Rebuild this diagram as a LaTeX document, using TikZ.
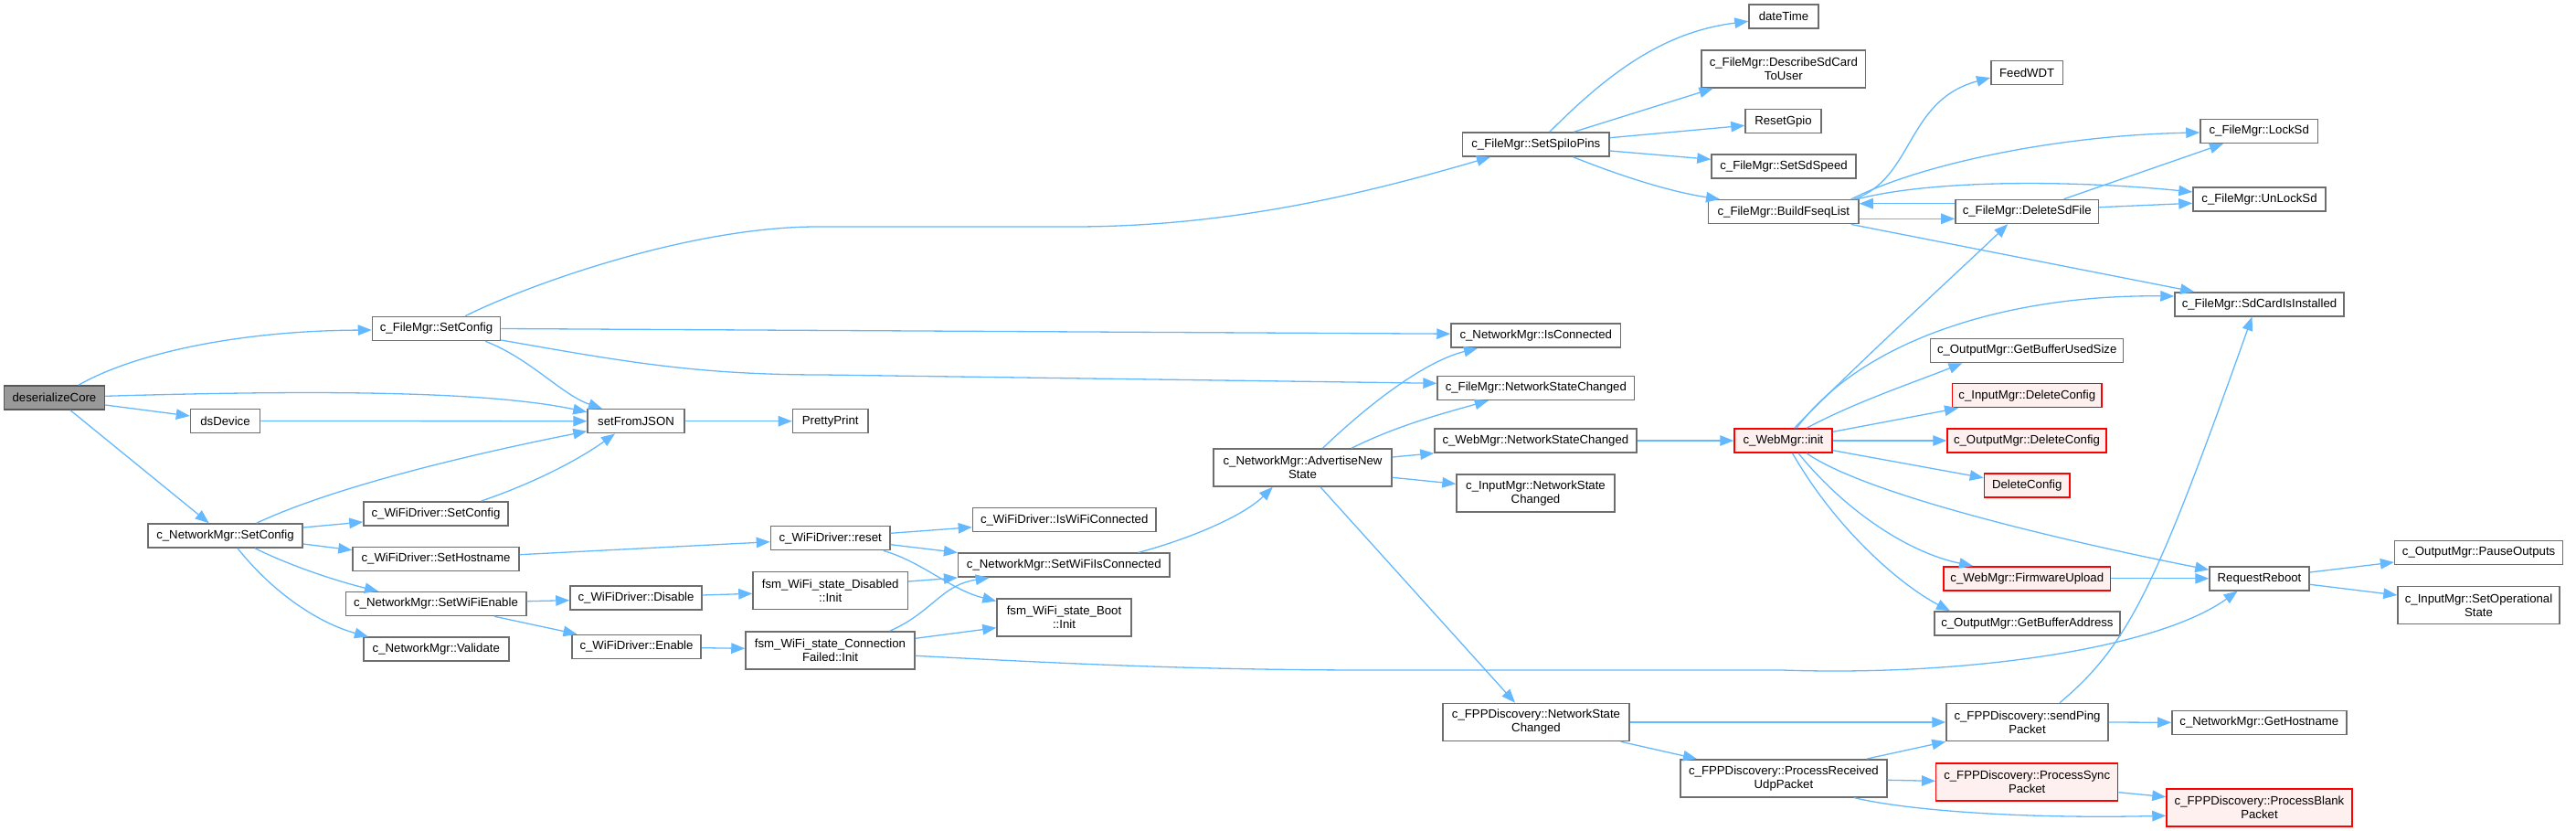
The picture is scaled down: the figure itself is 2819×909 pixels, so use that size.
\documentclass[tikz,border=0pt]{standalone}
\usepackage{fontspec}
\setmainfont{Liberation Sans}
\usetikzlibrary{arrows.meta}
\definecolor{ecol}{HTML}{63B8FF}
\definecolor{bcol}{HTML}{6E6E6E}
\definecolor{rootfill}{HTML}{999999}
\definecolor{redfill}{HTML}{FFF0F0}
\tikzset{
  nb/.style={draw=bcol, fill=white, line width=1.5pt, inner sep=0pt, minimum height=26pt,
             font=\fontsize{13.2pt}{15pt}\selectfont, align=center, text=black},
  tb/.style={nb, minimum height=41pt},
  rb/.style={nb, draw=red, fill=redfill},
  rtb/.style={tb, draw=red, fill=redfill},
  gb/.style={nb, fill=rootfill, draw=bcol!80!black},
  cx/.style={draw=ecol, line width=1.3pt, -{Triangle[length=15pt,width=11.5pt]}}
}
\begin{document}
\begin{tikzpicture}[x=1pt,y=-1pt]
\useasboundingbox (0,0) rectangle (2819,909);
% ---------- nodes ----------
\node[gb, minimum width=110pt] (dc) at (59.5,435) {deserializeCore};
\node[nb, minimum width=140pt] (fsc) at (477.5,359.5) {c\_FileMgr::SetConfig};
\node[nb, minimum width=76pt] (dsd) at (246.5,460.5) {dsDevice};
\node[nb, minimum width=106pt] (sfj) at (696,460.7) {setFromJSON};
\node[nb, minimum width=169pt] (nsc) at (246.5,586) {c\_NetworkMgr::SetConfig};
\node[nb, minimum width=158pt] (wsc) at (477,561.8) {c\_WiFiDriver::SetConfig};
\node[nb, minimum width=182pt] (wsh) at (477,611.4) {c\_WiFiDriver::SetHostname};
\node[nb, minimum width=197.5pt] (swe) at (477,660.5) {c\_NetworkMgr::SetWiFiEnable};
\node[nb, minimum width=159pt] (val) at (477.3,710.2) {c\_NetworkMgr::Validate};
\node[nb, minimum width=144pt] (dis) at (696,654) {c\_WiFiDriver::Disable};
\node[nb, minimum width=141pt] (ena) at (696.5,707.4) {c\_WiFiDriver::Enable};
\node[nb, minimum width=82.5pt] (pp) at (908.7,460.7) {PrettyPrint};
\node[tb, minimum width=195pt] (ans) at (1425.5,511.5) {c\_NetworkMgr::AdvertiseNew\\State};
\node[nb, minimum width=200.5pt] (iwc) at (1164.7,568.7) {c\_WiFiDriver::IsWiFiConnected};
\node[nb, minimum width=130.5pt] (rst) at (908.7,588.7) {c\_WiFiDriver::reset};
\node[nb, minimum width=231.3pt] (swic) at (1164.3,618.2) {c\_NetworkMgr::SetWiFiIsConnected};
\node[tb, minimum width=169.4pt] (dinit) at (908.7,646) {fsm\_WiFi\_state\_Disabled\\::Init};
\node[tb, minimum width=185pt] (fcf) at (908.5,711.3) {fsm\_WiFi\_state\_Connection\\Failed::Init};
\node[tb, minimum width=147pt] (boot) at (1164.5,675.5) {fsm\_WiFi\_state\_Boot\\::Init};
\node[nb, minimum width=76pt] (dt) at (1952,18) {dateTime};
\node[tb, minimum width=179.6pt] (desc) at (1951.8,75.5) {c\_FileMgr::DescribeSdCard\\ToUser};
\node[nb, minimum width=83pt] (rg) at (1951.5,132.7) {ResetGpio};
\node[nb, minimum width=158pt] (sds) at (1952,182) {c\_FileMgr::SetSdSpeed};
\node[nb, minimum width=164.4pt] (bfl) at (1951.8,231.7) {c\_FileMgr::BuildFseqList};
\node[nb, minimum width=160.4pt] (spi) at (1680.8,158) {c\_FileMgr::SetSpiIoPins};
\node[nb, minimum width=185.6pt] (ic) at (1680.8,367.2) {c\_NetworkMgr::IsConnected};
\node[nb, minimum width=215.5pt] (fnsc) at (1680.8,424.5) {c\_FileMgr::NetworkStateChanged};
\node[nb, minimum width=220.8pt] (wnsc) at (1680.4,482) {c\_WebMgr::NetworkStateChanged};
\node[tb, minimum width=173pt] (insc) at (1680.5,539.3) {c\_InputMgr::NetworkState\\Changed};
\node[rb, minimum width=107pt] (init) at (1951.5,482) {c\_WebMgr::init};
\node[tb, minimum width=204pt] (fppn) at (1681,790) {c\_FPPDiscovery::NetworkState\\Changed};
\node[tb, minimum width=226pt] (udp) at (1951.9,851.3) {c\_FPPDiscovery::ProcessReceived\\UdpPacket};
\node[nb, minimum width=78.8pt] (fw) at (2218.2,79.5) {FeedWDT};
\node[nb, minimum width=128.5pt] (lock) at (2472.2,143.5) {c\_FileMgr::LockSd};
\node[nb, minimum width=145pt] (unlock) at (2472.5,218) {c\_FileMgr::UnLockSd};
\node[nb, minimum width=156.5pt] (del) at (2218.2,231.5) {c\_FileMgr::DeleteSdFile};
\node[nb, minimum width=185pt] (sdc) at (2472.5,332.8) {c\_FileMgr::SdCardIsInstalled};
\node[nb, minimum width=211pt] (gbus) at (2218.2,383.5) {c\_OutputMgr::GetBufferUsedSize};
\node[rb, minimum width=163.3pt] (idc) at (2218.3,432.7) {c\_InputMgr::DeleteConfig};
\node[rb, minimum width=174pt] (odc) at (2218,482) {c\_OutputMgr::DeleteConfig};
\node[rb, minimum width=93.5pt] (dcf) at (2218.2,531) {DeleteConfig};
\node[nb, minimum width=184pt] (po) at (2712.6,604.5) {c\_OutputMgr::PauseOutputs};
\node[rb, minimum width=182.6pt] (fu) at (2218.3,632.8) {c\_WebMgr::FirmwareUpload};
\node[nb, minimum width=109pt] (rr) at (2472.5,632.8) {RequestReboot};
\node[tb, minimum width=177pt] (sos) at (2712.5,662) {c\_InputMgr::SetOperational\\State};
\node[nb, minimum width=203pt] (gba) at (2218.4,682) {c\_OutputMgr::GetBufferAddress};
\node[tb, minimum width=177pt] (sp) at (2218.5,790) {c\_FPPDiscovery::sendPing\\Packet};
\node[nb, minimum width=191pt] (gh) at (2472.3,790.3) {c\_NetworkMgr::GetHostname};
\node[rtb, minimum width=199pt] (sync) at (2218.2,855.7) {c\_FPPDiscovery::ProcessSync\\Packet};
\node[rtb, minimum width=203pt] (blank) at (2472.5,883.5) {c\_FPPDiscovery::ProcessBlank\\Packet};
% ---------- connectors ----------
\draw[cx] ([xshift=26.5pt]dc.north) .. controls (140,390) and (250,362) .. ([yshift=-1.5pt]fsc.west);
\draw[cx] ([yshift=1.7pt]dc.east) .. controls (300,428) and (520,425) .. ([yshift=10pt]sfj.west);
\draw[cx] ([yshift=-8pt]dc.east) -- ([yshift=5.5pt]dsd.west);
\draw[cx] ([xshift=17.5pt]dc.south) -- ([xshift=-17.8pt]nsc.north);
\draw[cx] (dsd.east) -- (sfj.west);
\draw[cx] ([xshift=53.5pt]fsc.south) .. controls (580,392) and (615,432) .. ([xshift=-37pt]sfj.north);
\draw[cx] (fsc.east) -- ([yshift=2pt]ic.west);
\draw[cx] ([yshift=-12.5pt]fsc.east) .. controls (680,395) and (760,410) .. (900,410) -- ([yshift=5.2pt]fnsc.west);
\draw[cx] ([xshift=31.5pt]fsc.north) .. controls (570,315) and (750,248) .. (895,248) -- (1175,248) .. controls (1350,248) and (1500,210) .. ([xshift=-49.8pt]spi.south);
\draw[cx] (sfj.east) -- (pp.west);
\draw[cx] ([xshift=34.2pt]nsc.north) .. controls (360,535) and (500,500) .. ([yshift=-11pt]sfj.west);
\draw[cx] ([xshift=49.6pt]wsc.north) .. controls (580,530) and (630,505) .. ([xshift=-23pt]sfj.south);
\draw[cx] ([yshift=9pt]nsc.east) -- ([yshift=-9.2pt]wsc.west);
\draw[cx] ([yshift=-9pt]nsc.east) -- ([yshift=9.7pt]wsh.west);
\draw[cx] ([xshift=32.5pt]nsc.south) .. controls (320,620) and (370,636) .. ([xshift=-63pt]swe.north);
\draw[cx] ([xshift=13.5pt]nsc.south) .. controls (300,650) and (350,682) .. ([xshift=-74.3pt]val.north);
\draw[cx] ([yshift=4.7pt]wsh.east) -- ([yshift=-4pt]rst.west);
\draw[cx] ([yshift=2.8pt]swe.east) -- ([yshift=-2.7pt]dis.west);
\draw[cx] ([xshift=64pt]swe.south) -- ([xshift=-65pt]ena.north);
\draw[cx] ([yshift=5.4pt]rst.east) -- ([yshift=-8pt]iwc.west);
\draw[cx] ([yshift=-7pt]rst.east) -- (swic.north west);
\draw[cx] ([xshift=58.3pt]rst.south) .. controls (1010,615) and (1040,645) .. ([yshift=-3.3pt]boot.north west);
\draw[cx] ([yshift=3pt]dis.east) -- ([yshift=-3.3pt]dinit.west);
\draw[cx] ([yshift=-1.3pt]ena.east) -- ([yshift=2pt]fcf.west);
\draw[cx] ([yshift=10pt]dinit.east) -- (swic.south west);
\draw[cx] ([xshift=65.5pt]fcf.north) .. controls (1020,670) and (1030,640) .. ([xshift=-81.7pt]swic.south);
\draw[cx] ([yshift=13pt]fcf.east) -- ([yshift=-11.2pt]boot.west);
\draw[cx] ([yshift=-6pt]fcf.east) .. controls (1150,725) and (1300,733) .. (1500,733) -- (1950,733) .. controls (2150,740) and (2360,710) .. ([xshift=-23.9pt]rr.south);
\draw[cx] ([xshift=81.3pt]swic.north) .. controls (1300,590) and (1360,565) .. ([xshift=-32.7pt]ans.south);
\draw[cx] ([xshift=22pt]ans.north) .. controls (1500,440) and (1560,395) .. ([xshift=-63.8pt]ic.south);
\draw[cx] ([xshift=53.5pt]ans.north) .. controls (1530,465) and (1580,452) .. ([xshift=-52pt]fnsc.south);
\draw[cx] ([yshift=11.5pt]ans.east) -- (wnsc.south west);
\draw[cx] ([yshift=-10.8pt]ans.east) -- ([yshift=10pt]insc.west);
\draw[cx] ([xshift=19.5pt]ans.south) -- ([xshift=-23pt]fppn.north);
\draw[cx] (wnsc.east) -- (init.west);
\draw[cx] (fppn.east) -- (sp.west);
\draw[cx] ([xshift=92.6pt]fppn.south) -- ([xshift=-95pt]udp.north);
\draw[cx] ([xshift=91pt]udp.north) -- (sp.south west);
\draw[cx] ([yshift=-2pt]udp.east) -- ([yshift=1.4pt]sync.west);
\draw[cx] ([xshift=77pt]udp.south) .. controls (2080,885) and (2200,896) .. ([yshift=-8.8pt]blank.west);
\draw[cx] ([yshift=-11pt]sync.east) -- ([yshift=11.8pt]blank.west);
\draw[cx] (sp.east) -- (gh.west);
\draw[cx] ([xshift=35.5pt]sp.north) .. controls (2330,705) and (2360,640) .. ([xshift=-8pt]sdc.south);
\draw[cx] ([yshift=6.8pt]rr.east) -- ([yshift=-10.5pt]po.west);
\draw[cx] ([yshift=-6.5pt]rr.east) -- ([yshift=11pt]sos.west);
\draw[cx] (fu.east) -- (rr.west);
% from c_WebMgr::init
\draw[cx] ([xshift=12.2pt]init.north) .. controls (2030,400) and (2140,300) .. ([xshift=-21pt]del.south);
\draw[cx] ([xshift=14.5pt]init.north) .. controls (2040,370) and (2200,322) .. ([yshift=8.8pt]sdc.west);
\draw[cx] ([xshift=25.5pt]init.north) .. controls (2030,440) and (2090,420) .. ([xshift=-70.7pt]gbus.south);
\draw[cx] ([yshift=9.7pt]init.east) -- ([xshift=-75.3pt]idc.south);
\draw[cx] (init.east) -- (odc.west);
\draw[cx] ([yshift=-10.7pt]init.east) -- ([yshift=8.3pt]dcf.west);
\draw[cx] ([xshift=25.5pt]init.south) .. controls (2040,540) and (2250,590) .. ([yshift=9.5pt]rr.west);
\draw[cx] ([xshift=16.5pt]init.south) .. controls (2020,560) and (2090,605) .. ([xshift=-59.3pt]fu.north);
\draw[cx] ([xshift=10pt]init.south) .. controls (2010,580) and (2080,640) .. ([xshift=-84.4pt]gba.north);
% c_FileMgr::SetSpiIoPins
\draw[cx] ([xshift=15pt]spi.north) .. controls (1760,80) and (1820,35) .. ([yshift=-5.3pt]dt.west);
\draw[cx] ([xshift=41.6pt]spi.north) -- ([xshift=-77.3pt]desc.south);
\draw[cx] ([yshift=7.3pt]spi.east) -- ([yshift=-4.6pt]rg.west);
\draw[cx] ([yshift=-7pt]spi.east) -- ([yshift=7.7pt]sds.west);
\draw[cx] ([xshift=40.7pt]spi.south) .. controls (1780,195) and (1830,210) .. ([xshift=-69.8pt]bfl.north);
% c_FileMgr::BuildFseqList and DeleteSdFile
\draw[cx] ([xshift=-6pt]bfl.north east) .. controls (2095,195) and (2085,110) .. ([yshift=-5.5pt]fw.west);
\draw[cx] ([xshift=-9pt]bfl.north east) .. controls (2100,180) and (2250,148) .. ([yshift=-1.5pt]lock.west);
\draw[cx] ([xshift=-3pt]bfl.north east) .. controls (2120,195) and (2280,198) .. ([yshift=8pt]unlock.west);
\draw[cx] ([yshift=8.8pt]del.west) -- ([yshift=9pt]bfl.east);
\draw[cx] ([yshift=-7.6pt]bfl.east) -- ([yshift=-7.8pt]del.west);
\draw[cx] ([xshift=-9pt]bfl.south east) -- ([xshift=-71.5pt]sdc.north);
\draw[cx] ([xshift=40.3pt]del.north) -- ([xshift=-39.2pt]lock.south);
\draw[cx] ([yshift=4.8pt]del.east) -- ([yshift=-4.3pt]unlock.west);
\end{tikzpicture}
\end{document}
